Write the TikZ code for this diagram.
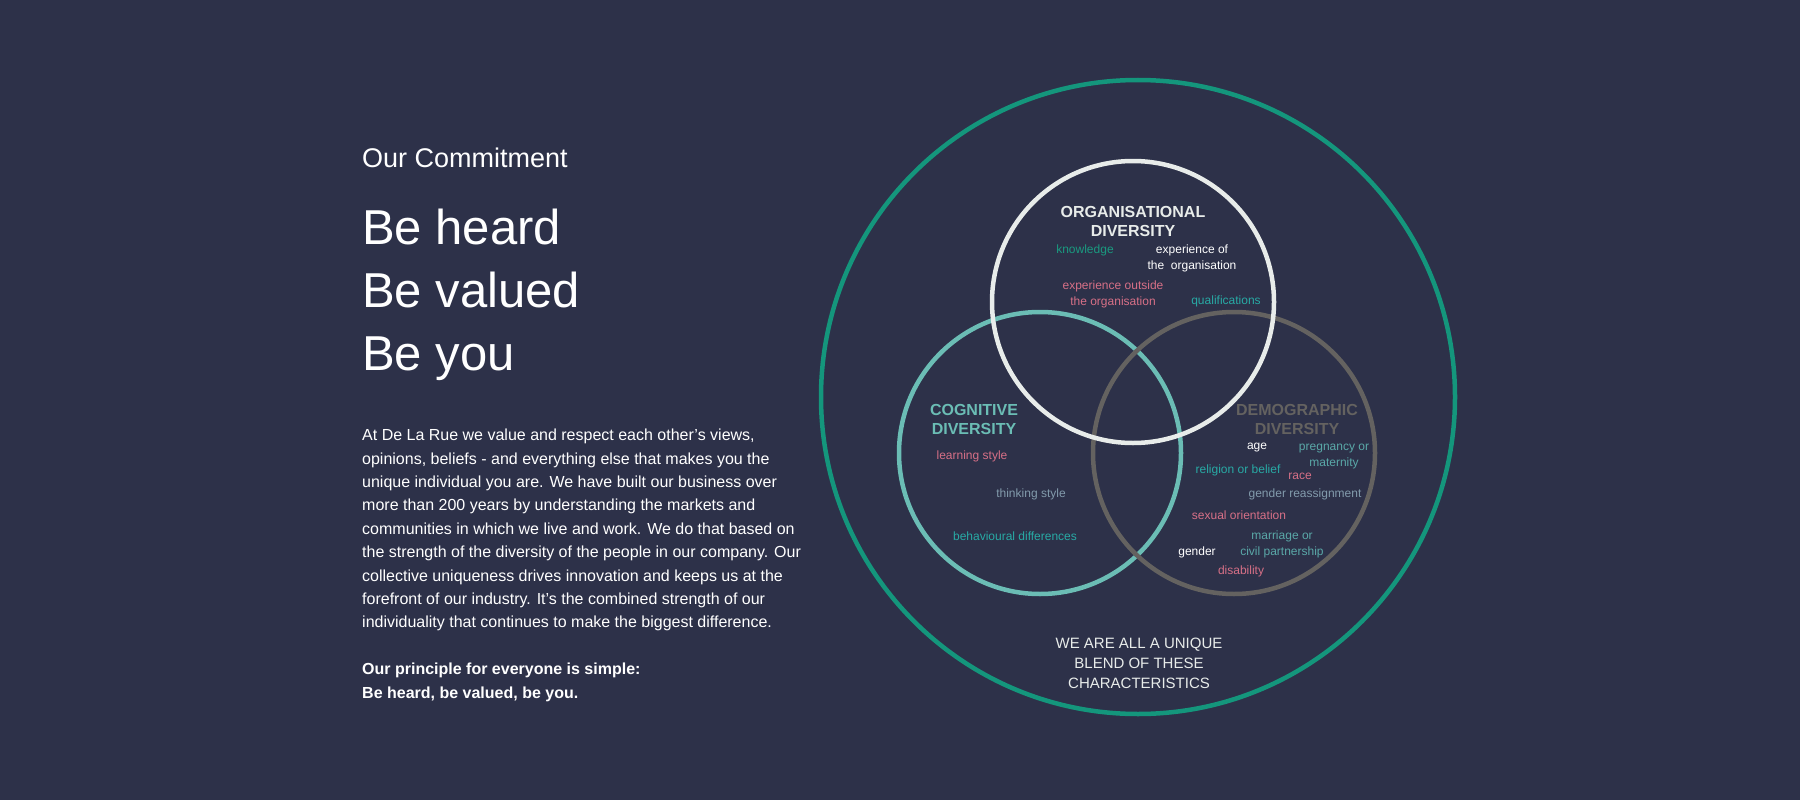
\documentclass[tikz,border=0pt]{standalone}
\usepackage{fontspec}
\setmainfont{Liberation Sans}
\usetikzlibrary{positioning}

\definecolor{bgnavy}{RGB}{45,49,73}
\definecolor{dgreen}{RGB}{20,150,124}
\definecolor{lteal}{RGB}{107,189,181}
\definecolor{dgray}{RGB}{100,98,96}
\definecolor{offwhite}{RGB}{232,236,234}
\definecolor{mpink}{RGB}{215,112,135}
\definecolor{mteal}{RGB}{40,170,165}
\definecolor{kgreen}{RGB}{26,154,128}
\definecolor{bluegray}{RGB}{130,155,172}
\definecolor{tealgray}{RGB}{90,168,168}

\begin{document}
\begin{tikzpicture}[x=1pt,y=-1pt,
    ring/.style={draw,line width=4.5pt},
    heading/.style={font=\fontsize{16}{19}\selectfont\bfseries,align=center},
    item/.style={font=\fontsize{12}{16}\selectfont,align=center},
    bodytext/.style={font=\fontsize{16}{23.4}\selectfont,align=left,anchor=north west,inner sep=0pt,text=white}]

\fill[bgnavy] (0,0) rectangle (1800,800);
\useasboundingbox (0,0) rectangle (1800,800);

% left column
\node[anchor=west,inner sep=0pt,text=white,font=\fontsize{27}{32}\selectfont] (commit) at (362,158) {Our Commitment};
\node[anchor=west,inner sep=0pt,text=white,font=\fontsize{49}{63}\selectfont,align=left] (motto) at (362,295) {Be heard\\Be valued\\Be you};
\node[bodytext] (body) at (362,429) {At De La Rue we value and respect each other’s views,\\
opinions, beliefs - and everything else that makes you the\\
unique individual you are. We have built our business over\\
more than 200 years by understanding the markets and\\
communities in which we live and work. We do that based on\\
the strength of the diversity of the people in our company. Our\\
collective uniqueness drives innovation and keeps us at the\\
forefront of our industry. It’s the combined strength of our\\
individuality that continues to make the biggest difference.};
\node[bodytext,font=\fontsize{16}{23.4}\selectfont\bfseries] (principle) at (362,663) {Our principle for everyone is simple:\\Be heard, be valued, be you.};

% circles
\node[ring,dgreen,circle,minimum size=634pt] (outer) at (1138,397) {};
\node[ring,lteal,circle,minimum size=282pt] (cog) at (1040,453) {};
\node[ring,dgray,circle,minimum size=282pt] (demo) at (1234,453) {};
\node[ring,offwhite,circle,minimum size=282pt] (org) at (1133,302) {};

% organisational
\node[heading,text=offwhite] (orgT) at (1133,221) {ORGANISATIONAL\\DIVERSITY};
\node[item,text=kgreen] (know) at (1085,250) {knowledge};
\node[item,text=white] (expof) at (1192,258) {experience of\\the\ \ organisation};
\node[item,text=mpink] (expout) at (1113,294) {experience outside\\the organisation};
\node[item,text=mteal] (qual) at (1226,301) {qualifications};

% cognitive
\node[heading,text=lteal] (cogT) at (974,419) {COGNITIVE\\DIVERSITY};
\node[item,text=mpink] (learn) at (972,456) {learning style};
\node[item,text=bluegray] (think) at (1031,494) {thinking style};
\node[item,text=mteal] (behav) at (1015,536) {behavioural differences};

% demographic
\node[heading,text=dgray] (demoT) at (1297,419) {DEMOGRAPHIC\\DIVERSITY};
\node[item,text=white] (age) at (1257,448) {age};
\node[item,text=tealgray] (preg) at (1334,457) {pregnancy or\\maternity};
\node[item,text=mteal] (relig) at (1238,470) {religion or belief};
\node[item,text=mpink] (race) at (1300,476) {race};
\node[item,text=bluegray] (genre) at (1305,494) {gender reassignment};
\node[item,text=mpink] (sex) at (1239,515) {sexual orientation};
\node[item,text=tealgray] (marr) at (1282,544) {marriage or\\civil partnership};
\node[item,text=white] (gender) at (1197,552) {gender};
\node[item,text=mpink] (disab) at (1241,571) {disability};

\node[align=center,text=offwhite,font=\fontsize{15}{20}\selectfont] (blend) at (1139,663) {WE ARE ALL A UNIQUE\\BLEND OF THESE\\CHARACTERISTICS};

\end{tikzpicture}
\end{document}
